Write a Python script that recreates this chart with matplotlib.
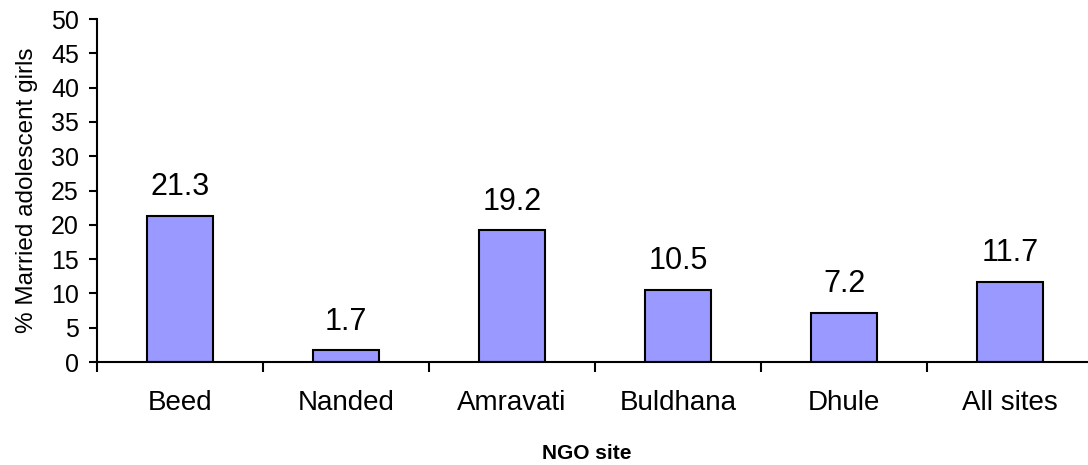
import matplotlib
matplotlib.use("Agg")
import matplotlib.pyplot as plt
import numpy as np

plt.rcParams["font.family"] = ["Liberation Sans", "DejaVu Sans"]

sites = ["Beed", "Nanded", "Amravati", "Buldhana", "Dhule", "All sites"]
married_pct = [21.3, 1.7, 19.2, 10.5, 7.2, 11.7]

fig = plt.figure(figsize=(10.88, 4.65), dpi=100)
ax = fig.add_axes([0.0892, 0.2215, 0.9154, 0.7376])

x = np.arange(len(sites))
ax.bar(x, married_pct, width=0.4, color="#9999FF",
       edgecolor="black", linewidth=1.5)
for xi, v in zip(x, married_pct):
    ax.text(xi, v + 3.0, f"{v}", ha="center", va="baseline", fontsize=22)

ax.set_xlim(-0.5, len(sites) - 0.5)
ax.set_ylim(0, 50)
ax.set_yticks(np.arange(0, 51, 5))
ax.tick_params(axis="y", labelsize=18, length=6, width=1.5,
               direction="out", pad=7)

# category labels centred, tick marks on the boundaries
ax.set_xticks(x)
ax.set_xticklabels(sites, fontsize=20)
ax.tick_params(axis="x", length=0, pad=20)
ax.set_xticks(np.arange(-0.5, len(sites), 1.0), minor=True)
ax.tick_params(axis="x", which="minor", length=7, width=1.5, direction="out")

for side in ["top", "right"]:
    ax.spines[side].set_visible(False)
for side in ["left", "bottom"]:
    ax.spines[side].set_linewidth(1.5)

ax.set_xlabel("NGO site", fontsize=15, fontweight="bold")
ax.xaxis.set_label_coords(0.492, -0.238)
ax.set_ylabel("% Married adolescent girls", fontsize=17.5, labelpad=9)

fig.savefig("out.png", dpi=100)
